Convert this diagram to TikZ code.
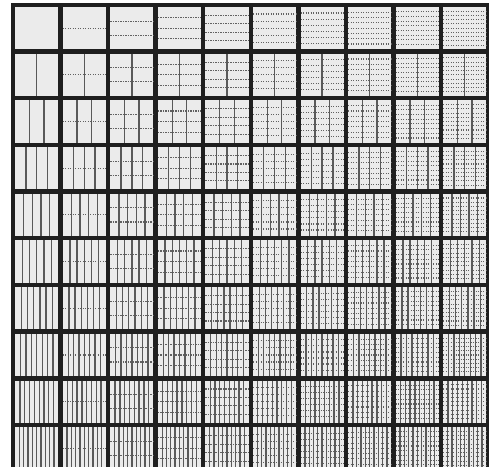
\documentclass[tikz,border=0pt]{standalone}
\begin{document}
\begin{tikzpicture}[x=1pt,y=-1pt,
  cellfill/.style={fill=black!8},
  vline/.style={draw=black!65,line width=1.3pt},
  hline/.style={draw=black!62,line width=1.1pt,dash pattern=on 1.2pt off 1.3pt}]
\useasboundingbox (0,0) rectangle (489,466);
\clip (0,0) rectangle (489,466);
\fill[white] (0,0) rectangle (489,466);
\fill[black!88] (10.8,2.6) rectangle (490.8,473.9);
\foreach \r in {0,...,9}{
  \foreach \c in {0,...,9}{
    \pgfmathsetmacro{\xa}{13+47.56*\c+2.2}
    \pgfmathsetmacro{\xb}{13+47.56*(\c+1)-2.2}
    \pgfmathsetmacro{\ya}{4.8+46.69*\r+2.2}
    \pgfmathsetmacro{\yb}{4.8+46.69*(\r+1)-2.2}
    \fill[cellfill] (\xa,\ya) rectangle (\xb,\yb);
    \ifnum\c>0
      \foreach \k in {1,...,\c}{
        \pgfmathsetmacro{\yy}{\ya+(\yb-\ya)*\k/(\c+1)}
        \draw[hline] (\xa,\yy) -- (\xb,\yy);
      }
    \fi
    \ifnum\r>0
      \foreach \k in {1,...,\r}{
        \pgfmathsetmacro{\xx}{\xa+(\xb-\xa)*\k/(\r+1)}
        \draw[vline] (\xx,\ya) -- (\xx,\yb);
      }
    \fi
  }
}
\end{tikzpicture}
\end{document}
